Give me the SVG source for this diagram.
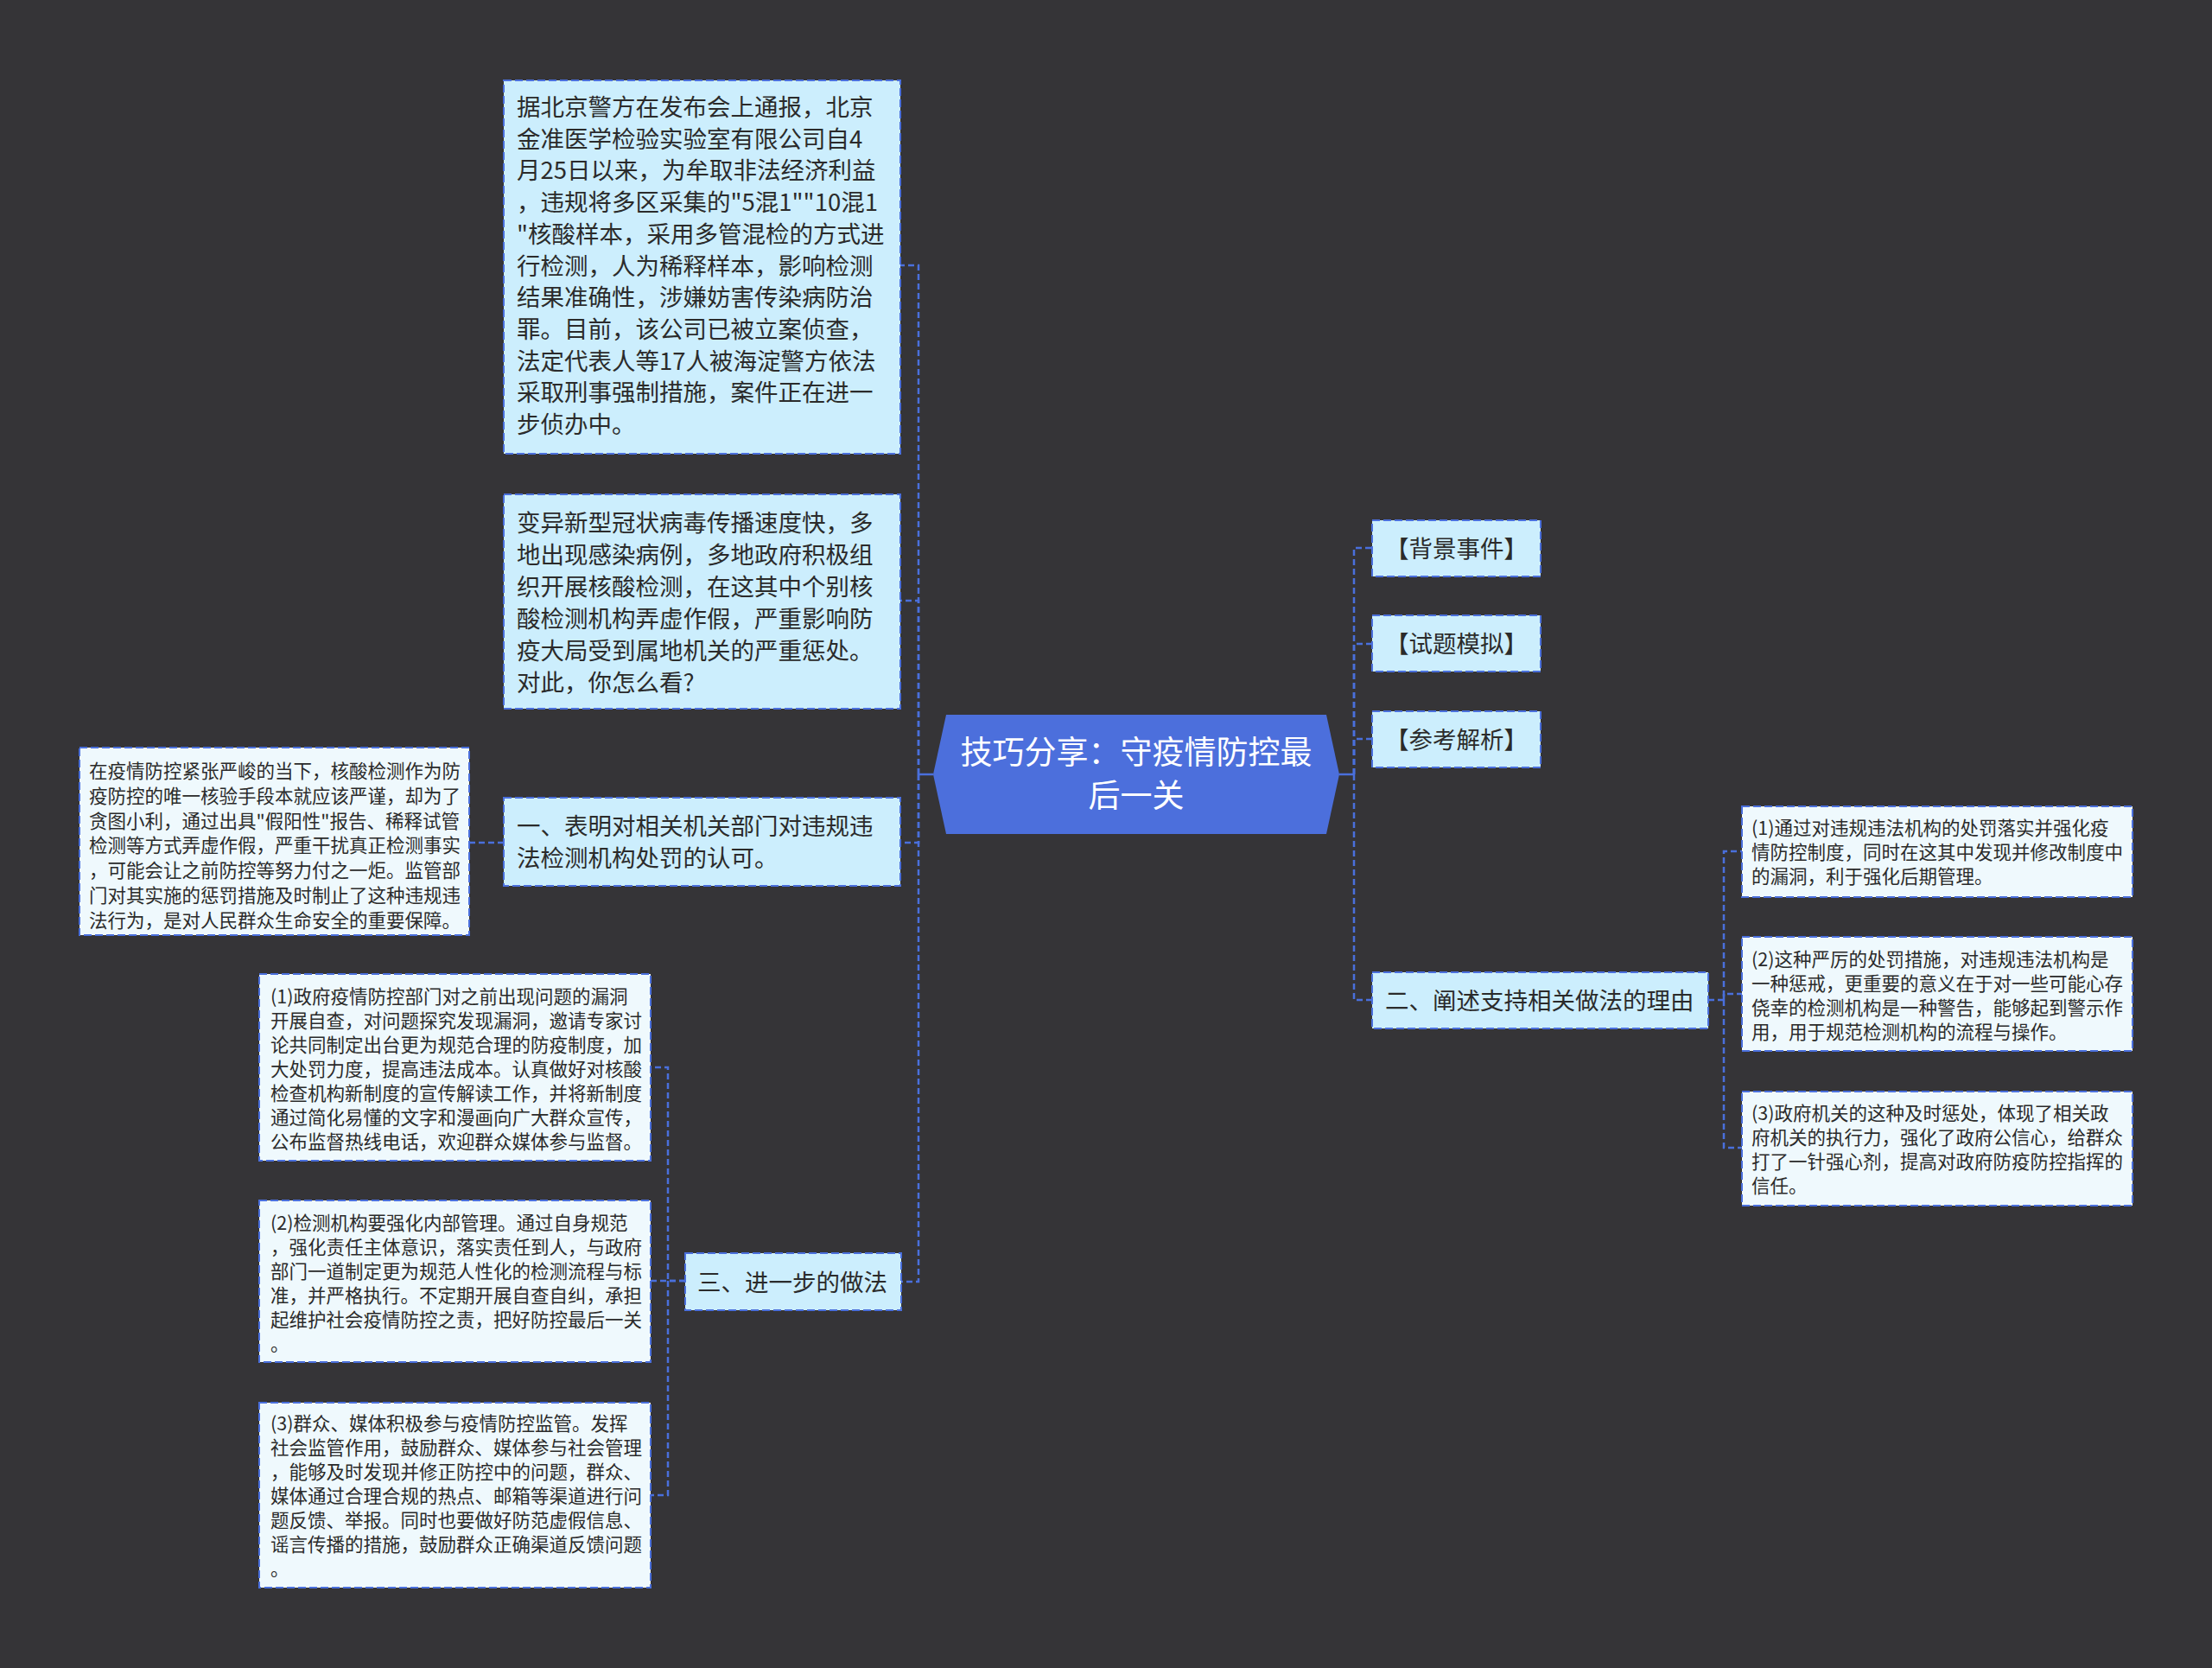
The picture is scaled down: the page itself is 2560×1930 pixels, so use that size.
<svg xmlns="http://www.w3.org/2000/svg" width="2560" height="1930" viewBox="0 0 2560 1930">
<style>
.bg{fill:#353437}
.l2{fill:#CCEEFD;stroke:#4A6FDC;stroke-width:2;stroke-dasharray:9 4}
.leaf{fill:#EFF9FD;stroke:#4A6FDC;stroke-width:2;stroke-dasharray:9 4}
.t2{font-family:"Noto Sans CJK SC","Noto Sans",sans-serif;font-size:27.5px;fill:#2b2b2b}
.t3{font-family:"Noto Sans CJK SC","Noto Sans",sans-serif;font-size:21.5px;fill:#2b2b2b}
.root{fill:#4C6FDC}
.troot{font-family:"Noto Sans CJK SC","Noto Sans",sans-serif;font-size:37px;fill:#ffffff}
.c{fill:none;stroke:#4A6FDC;stroke-width:2.5;stroke-dasharray:7 4}
.cs{fill:none;stroke:#4A6FDC;stroke-width:2.5}
</style>
<rect class="bg" x="0" y="0" width="2560" height="1930"/>

<g id="connectors">
  <path class="cs" d="M1080,896 H1063"/>
  <path class="c" d="M1063,896 V307 H1042"/>
  <path class="c" d="M1063,896 V695 H1042"/>
  <path class="c" d="M1063,896 V975 H1042"/>
  <path class="c" d="M1063,896 V1483 H1043"/>
  <path class="c" d="M583,975 H543"/>
  <path class="c" d="M793,1482 H773 V1235 H753"/>
  <path class="c" d="M793,1482 H753"/>
  <path class="c" d="M773,1482 V1730 H753"/>
  <path class="cs" d="M1550,896 H1567"/>
  <path class="c" d="M1567,896 V634 H1588"/>
  <path class="c" d="M1567,896 V745 H1588"/>
  <path class="c" d="M1567,896 V855 H1588"/>
  <path class="c" d="M1567,896 V1157 H1588"/>
  <path class="c" d="M1977,1157 H1995 V985 H2016"/>
  <path class="c" d="M1995,1157 V1150 H2016"/>
  <path class="c" d="M1995,1157 V1328 H2016"/>
</g>

<g id="root">
  <polygon class="root" points="1095,827 1535,827 1550,896 1535,965 1095,965 1080,896"/>
  <text class="troot" text-anchor="middle"><tspan x="1315" y="884">技巧分享：守疫情防控最</tspan><tspan x="1315" y="934">后一关</tspan></text>
</g>

<g id="node-background-text">
  <rect class="l2" x="583" y="93" width="459" height="432"/>
  <text class="t2"><tspan x="598" y="134">据北京警方在发布会上通报，北京</tspan><tspan x="598" y="170.7">金准医学检验实验室有限公司自4</tspan><tspan x="598" y="207.4">月25日以来，为牟取非法经济利益</tspan><tspan x="598" y="244.1">，违规将多区采集的"5混1""10混1</tspan><tspan x="598" y="280.8">"核酸样本，采用多管混检的方式进</tspan><tspan x="598" y="317.5">行检测，人为稀释样本，影响检测</tspan><tspan x="598" y="354.2">结果准确性，涉嫌妨害传染病防治</tspan><tspan x="598" y="390.9">罪。目前，该公司已被立案侦查，</tspan><tspan x="598" y="427.6">法定代表人等17人被海淀警方依法</tspan><tspan x="598" y="464.3">采取刑事强制措施，案件正在进一</tspan><tspan x="598" y="501">步侦办中。</tspan></text>
</g>

<g id="node-question">
  <rect class="l2" x="583" y="572" width="459" height="248"/>
  <text class="t2"><tspan x="598" y="615">变异新型冠状病毒传播速度快，多</tspan><tspan x="598" y="652">地出现感染病例，多地政府积极组</tspan><tspan x="598" y="689">织开展核酸检测，在这其中个别核</tspan><tspan x="598" y="726">酸检测机构弄虚作假，严重影响防</tspan><tspan x="598" y="763">疫大局受到属地机关的严重惩处。</tspan><tspan x="598" y="800">对此，你怎么看?</tspan></text>
</g>

<g id="node-one">
  <rect class="l2" x="583" y="923" width="459" height="102"/>
  <text class="t2"><tspan x="598" y="966">一、表明对相关机关部门对违规违</tspan><tspan x="598" y="1003">法检测机构处罚的认可。</tspan></text>
</g>

<g id="node-one-detail">
  <rect class="leaf" x="92" y="865" width="451" height="217"/>
  <text class="t3"><tspan x="103" y="900">在疫情防控紧张严峻的当下，核酸检测作为防</tspan><tspan x="103" y="928.8">疫防控的唯一核验手段本就应该严谨，却为了</tspan><tspan x="103" y="957.6">贪图小利，通过出具"假阳性"报告、稀释试管</tspan><tspan x="103" y="986.4">检测等方式弄虚作假，严重干扰真正检测事实</tspan><tspan x="103" y="1015.2">，可能会让之前防控等努力付之一炬。监管部</tspan><tspan x="103" y="1044">门对其实施的惩罚措施及时制止了这种违规违</tspan><tspan x="103" y="1072.8">法行为，是对人民群众生命安全的重要保障。</tspan></text>
</g>

<g id="node-three">
  <rect class="l2" x="793" y="1450" width="250" height="66"/>
  <text class="t2"><tspan x="807" y="1494">三、进一步的做法</tspan></text>
</g>

<g id="node-three-1">
  <rect class="leaf" x="300" y="1127" width="453" height="216"/>
  <text class="t3"><tspan x="313" y="1161">(1)政府疫情防控部门对之前出现问题的漏洞</tspan><tspan x="313" y="1189">开展自查，对问题探究发现漏洞，邀请专家讨</tspan><tspan x="313" y="1217">论共同制定出台更为规范合理的防疫制度，加</tspan><tspan x="313" y="1245">大处罚力度，提高违法成本。认真做好对核酸</tspan><tspan x="313" y="1273">检查机构新制度的宣传解读工作，并将新制度</tspan><tspan x="313" y="1301">通过简化易懂的文字和漫画向广大群众宣传，</tspan><tspan x="313" y="1329">公布监督热线电话，欢迎群众媒体参与监督。</tspan></text>
</g>

<g id="node-three-2">
  <rect class="leaf" x="300" y="1389" width="453" height="187"/>
  <text class="t3"><tspan x="313" y="1423">(2)检测机构要强化内部管理。通过自身规范</tspan><tspan x="313" y="1451">，强化责任主体意识，落实责任到人，与政府</tspan><tspan x="313" y="1479">部门一道制定更为规范人性化的检测流程与标</tspan><tspan x="313" y="1507">准，并严格执行。不定期开展自查自纠，承担</tspan><tspan x="313" y="1535">起维护社会疫情防控之责，把好防控最后一关</tspan><tspan x="313" y="1563">。</tspan></text>
</g>

<g id="node-three-3">
  <rect class="leaf" x="300" y="1623" width="453" height="214"/>
  <text class="t3"><tspan x="313" y="1655">(3)群众、媒体积极参与疫情防控监管。发挥</tspan><tspan x="313" y="1683">社会监管作用，鼓励群众、媒体参与社会管理</tspan><tspan x="313" y="1711">，能够及时发现并修正防控中的问题，群众、</tspan><tspan x="313" y="1739">媒体通过合理合规的热点、邮箱等渠道进行问</tspan><tspan x="313" y="1767">题反馈、举报。同时也要做好防范虚假信息、</tspan><tspan x="313" y="1795">谣言传播的措施，鼓励群众正确渠道反馈问题</tspan><tspan x="313" y="1823">。</tspan></text>
</g>

<g id="node-bg-event">
  <rect class="l2" x="1588" y="602" width="195" height="65"/>
  <text class="t2" text-anchor="middle"><tspan x="1685.5" y="645">【背景事件】</tspan></text>
</g>

<g id="node-exam">
  <rect class="l2" x="1588" y="712" width="195" height="65"/>
  <text class="t2" text-anchor="middle"><tspan x="1685.5" y="755">【试题模拟】</tspan></text>
</g>

<g id="node-ref">
  <rect class="l2" x="1588" y="823" width="195" height="65"/>
  <text class="t2" text-anchor="middle"><tspan x="1685.5" y="866">【参考解析】</tspan></text>
</g>

<g id="node-two">
  <rect class="l2" x="1588" y="1125" width="389" height="65"/>
  <text class="t2"><tspan x="1603" y="1168">二、阐述支持相关做法的理由</tspan></text>
</g>

<g id="node-two-1">
  <rect class="leaf" x="2016" y="933" width="452" height="105"/>
  <text class="t3"><tspan x="2027" y="966">(1)通过对违规违法机构的处罚落实并强化疫</tspan><tspan x="2027" y="994">情防控制度，同时在这其中发现并修改制度中</tspan><tspan x="2027" y="1022">的漏洞，利于强化后期管理。</tspan></text>
</g>

<g id="node-two-2">
  <rect class="leaf" x="2016" y="1084" width="452" height="132"/>
  <text class="t3"><tspan x="2027" y="1118">(2)这种严厉的处罚措施，对违规违法机构是</tspan><tspan x="2027" y="1146">一种惩戒，更重要的意义在于对一些可能心存</tspan><tspan x="2027" y="1174">侥幸的检测机构是一种警告，能够起到警示作</tspan><tspan x="2027" y="1202">用，用于规范检测机构的流程与操作。</tspan></text>
</g>

<g id="node-two-3">
  <rect class="leaf" x="2016" y="1263" width="452" height="132"/>
  <text class="t3"><tspan x="2027" y="1296">(3)政府机关的这种及时惩处，体现了相关政</tspan><tspan x="2027" y="1324">府机关的执行力，强化了政府公信心，给群众</tspan><tspan x="2027" y="1352">打了一针强心剂，提高对政府防疫防控指挥的</tspan><tspan x="2027" y="1380">信任。</tspan></text>
</g>
</svg>
